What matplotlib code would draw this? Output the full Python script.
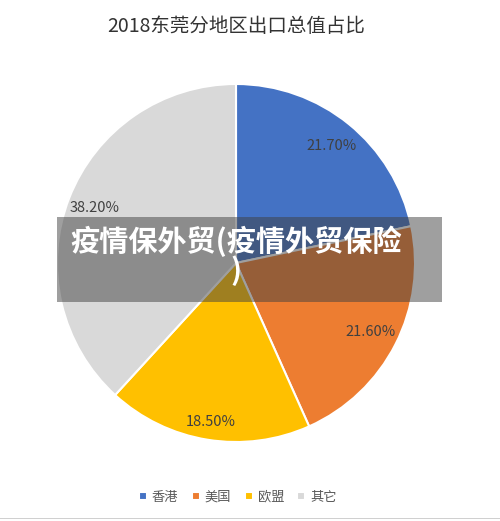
import numpy as np
import matplotlib.pyplot as plt
from matplotlib.patches import Rectangle

plt.rcParams['font.family'] = ['Noto Sans CJK SC', 'DejaVu Sans']

# 数据
regions = ['香港', '美国', '欧盟', '其它']
shares = [21.7, 21.6, 18.5, 38.2]
colors = ['#4472C4', '#ED7D31', '#FFC000', '#D9D9D9']

fig = plt.figure(figsize=(5.0, 5.21), dpi=100)

# 饼图位置 (中心约 236,263 像素, 半径约 179)
cx, cy, r = 236, 263, 179
ax = fig.add_axes([(cx - r) / 500, (521 - cy - r) / 521, 2 * r / 500, 2 * r / 521])
wedges, texts, autotexts = ax.pie(
    shares, colors=colors, startangle=90, counterclock=False,
    autopct='%.2f%%', pctdistance=0.85, radius=1,
    wedgeprops=dict(edgecolor='white', linewidth=1.5),
    textprops=dict(color='#404040', fontsize=10.5))
ax.set_xlim(-1, 1)
ax.set_ylim(-1, 1)
ax.set_aspect('auto')
ax.axis('off')

# 标签位置微调 (类似 Excel 的最佳位置)
label_dist = [0.845, 0.845, 0.90, 0.845]
for w, t, d in zip(wedges, autotexts, label_dist):
    ang = np.deg2rad((w.theta1 + w.theta2) / 2)
    t.set_position((d * np.cos(ang), d * np.sin(ang)))

fig.text(236 / 500, 1 - 27 / 521, '2018东莞分地区出口总值占比',
         ha='center', va='center', fontsize=14, color='#333333')

leg = fig.legend(wedges, regions, loc='center', bbox_to_anchor=(238 / 500, 1 - 497 / 521),
                 ncol=4, frameon=False, fontsize=9.5, handlelength=0.6, handleheight=0.6,
                 columnspacing=1.0, handletextpad=0.4)
for t in leg.get_texts():
    t.set_color('#595959')

# 底部灰线
fig.add_artist(Rectangle((0, 2 / 521), 1, 1.5 / 521, transform=fig.transFigure,
                         color='#D0D0D0', lw=0))

# 半透明横幅
fig.add_artist(Rectangle((57 / 500, 1 - 302 / 521), 385 / 500, 85 / 521,
                         transform=fig.transFigure, color='#404040', alpha=0.5, lw=0))
fig.text(236 / 500, 1 - 256 / 521, '疫情保外贸(疫情外贸保险\n)',
         ha='center', va='center', multialignment='center',
         fontsize=21, fontweight='heavy', color='white', linespacing=0.95)

fig.savefig('out.png', dpi=100, facecolor='white')
